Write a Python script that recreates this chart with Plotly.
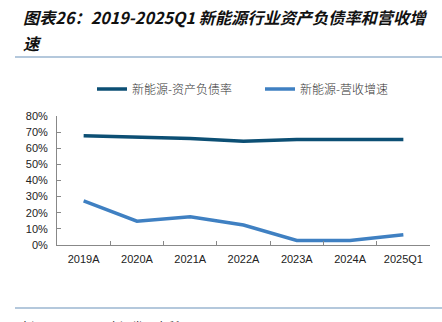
import plotly.graph_objects as go

categories = ["2019A", "2020A", "2021A", "2022A", "2023A", "2024A", "2025Q1"]
debt_ratio = [0.678, 0.672, 0.661, 0.643, 0.655, 0.655, 0.655]
revenue_growth = [0.273, 0.148, 0.175, 0.124, 0.028, 0.028, 0.063]
series_names = ["新能源-资产负债率", "新能源-营收增速"]
title_line1 = "图表26：2019-2025Q1 新能源行业资产负债率和营收增"
title_line2 = "速"
source_text = "来源：Wind，国金证券研究所"

W, H = 442, 322
L, R, T, B = 57, 12, 116, 77
PW, PH = W - L - R, H - T - B


def px(x):
    return (x - L) / PW


def py(y):
    return (H - B - y) / PH


fig = go.Figure()
fig.add_trace(go.Scatter(x=categories, y=debt_ratio, mode="lines", name=series_names[0],
                         line=dict(color="#0C4F74", width=3.5)))
fig.add_trace(go.Scatter(x=categories, y=revenue_growth, mode="lines", name=series_names[1],
                         line=dict(color="#3F80C2", width=3.5)))

cjk = "Noto Sans CJK SC"
fig.update_layout(
    width=W, height=H,
    margin=dict(l=L, r=R, t=T, b=B, pad=0),
    paper_bgcolor="white", plot_bgcolor="white",
    showlegend=True,
    legend=dict(orientation="h", x=px(92), y=py(89), xanchor="left", yanchor="middle",
                font=dict(family=cjk, size=12, color="#333333", weight=300),
                entrywidth=123, entrywidthmode="pixels", bgcolor="rgba(0,0,0,0)",
                tracegroupgap=0, itemwidth=30),
    xaxis=dict(type="category", range=[-0.5, len(categories) - 0.5], tickson="boundaries",
               ticks="inside", ticklen=4, ticklabelstandoff=4,
               tickcolor="#888888", showline=True, linecolor="#888888", linewidth=1,
               showgrid=False, zeroline=False,
               tickfont=dict(family="Liberation Sans, Arial", size=11, color="#222222")),
    yaxis=dict(range=[0, 0.8], dtick=0.1, tickformat=".0%", ticks="inside", ticklen=4,
               ticklabelstandoff=6,
               tickcolor="#888888", showline=True, linecolor="#888888", linewidth=1,
               showgrid=False, zeroline=False,
               tickfont=dict(family="Liberation Sans, Arial", size=11, color="#222222")),
    annotations=[
        dict(text=title_line1, xref="paper", yref="paper", x=px(21), y=py(17),
             xanchor="left", yanchor="middle", showarrow=False,
             font=dict(family=cjk, size=16.2, color="#111111", style="italic", weight=700)),
        dict(text=title_line2, xref="paper", yref="paper", x=px(21), y=py(43),
             xanchor="left", yanchor="middle", showarrow=False,
             font=dict(family=cjk, size=16.2, color="#111111", style="italic", weight=700)),
        dict(text=source_text, xref="paper", yref="paper", x=px(17), y=py(316),
             xanchor="left", yanchor="top", showarrow=False,
             font=dict(family=cjk, size=12, color="#222222")),
    ],
    shapes=[
        dict(type="line", xref="paper", yref="paper", x0=px(15), x1=px(442), y0=py(57), y1=py(57),
             line=dict(color="#B4C8DC", width=2)),
        dict(type="line", xref="paper", yref="paper", x0=px(15), x1=px(442), y0=py(308), y1=py(308),
             line=dict(color="#B4C8DC", width=2)),
    ],
)

fig.write_html("out.html")
